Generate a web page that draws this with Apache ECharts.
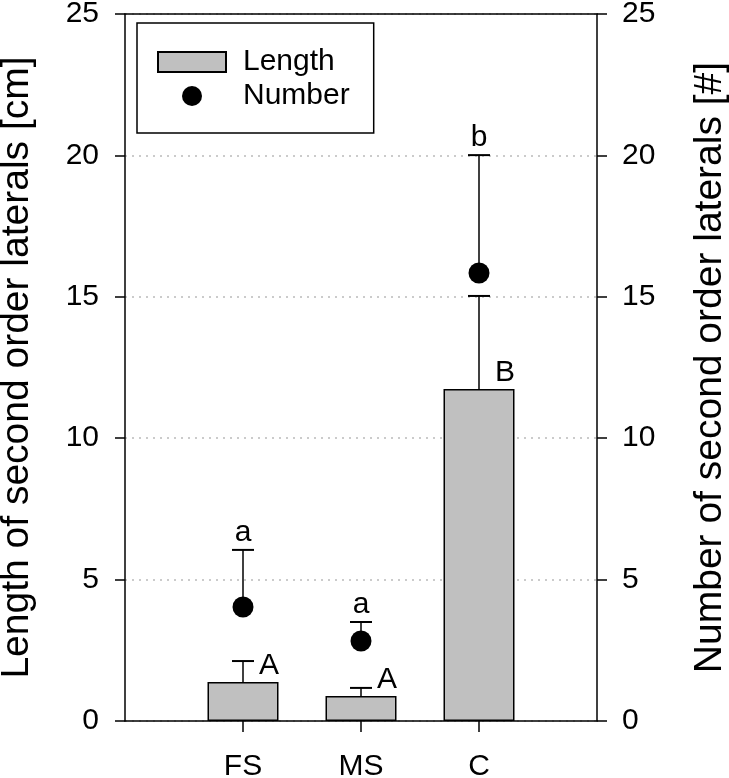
<!DOCTYPE html>
<html>
<head>
<meta charset="utf-8">
<script src="https://cdn.jsdelivr.net/npm/echarts@6/dist/echarts.min.js"></script>
<style>
html,body{margin:0;padding:0;background:#fff;}
#chart{width:729px;height:778px;}
</style>
</head>
<body>
<div id="chart"></div>
<script>
// ---- data ----
const categories = ['FS', 'MS', 'C'];
const lengthMean = [1.38, 0.88, 11.74];
const lengthErr = [0.74, 0.29, 3.29];
const numberMean = [4.03, 2.83, 15.84];
const numberErr = [2.02, 0.67, 4.17];
const lengthLetters = ['A', 'A', 'B'];
const numberLetters = ['a', 'a', 'b'];
const yTicks = [0, 5, 10, 15, 20, 25];

// ---- build ----
const FONT = '"Liberation Sans", Arial, sans-serif';
const axisCats = [''].concat(categories).concat(['']);
const lengthData = categories.map((c, i) => [i + 1, lengthMean[i]]);
const numberData = categories.map((c, i) => [i + 1, numberMean[i]]);
const lengthErrData = categories.map((c, i) => [i + 1, lengthMean[i], lengthMean[i] + lengthErr[i]]);
const numberErrData = categories.map((c, i) => [i + 1, numberMean[i], numberMean[i] + numberErr[i]]);

function makeErr(letters, kind) {
  return function (params, api) {
    const x = api.value(0), lo = api.value(1), hi = api.value(2);
    const p0 = api.coord([x, lo]);
    const p1 = api.coord([x, hi]);
    const half = 11;
    const txt = letters[params.dataIndex];
    let textEl;
    if (kind === 'number') {
      textEl = {type: 'text', x: p1[0], y: p1[1] - 17,
        style: {text: txt, fontSize: 30, fontFamily: FONT, fill: '#000', align: 'center', verticalAlign: 'middle'}};
    } else {
      textEl = {type: 'text', x: p0[0] + 16, y: p0[1] - 16,
        style: {text: txt, fontSize: 30, fontFamily: FONT, fill: '#000', align: 'left', verticalAlign: 'middle'}};
    }
    return {type: 'group', children: [
      {type: 'line', shape: {x1: p0[0], y1: p0[1], x2: p1[0], y2: p1[1]}, style: {stroke: '#000', lineWidth: 1.5}},
      {type: 'line', shape: {x1: p1[0] - half, y1: p1[1], x2: p1[0] + half, y2: p1[1]}, style: {stroke: '#000', lineWidth: 2}},
      textEl
    ]};
  };
}

const chart = echarts.init(document.getElementById('chart'), null, {renderer: 'canvas'});
const yAxisBase = {
  type: 'value', min: yTicks[0], max: yTicks[yTicks.length - 1], interval: 5,
  axisLine: {show: true, lineStyle: {color: '#000', width: 1.5}},
  axisTick: {show: true, inside: false, length: 10, lineStyle: {color: '#000', width: 1.5}},
  nameLocation: 'middle',
  nameTextStyle: {fontSize: 39, fontFamily: FONT, color: '#000'}
};
chart.setOption({
  animation: false,
  backgroundColor: '#fff',
  grid: {left: 125, right: 132, top: 14, bottom: 57, containLabel: false, outerBoundsMode: 'none'},
  legend: {
    orient: 'vertical', left: 137, top: 23,
    padding: [24, 24, 22, 20], itemGap: 4, itemWidth: 68, itemHeight: 20,
    borderColor: '#000', borderWidth: 1.5,
    textStyle: {fontSize: 30, fontFamily: FONT, color: '#000', padding: [0, 0, 0, 12]},
    data: [{name: 'Length', icon: 'rect'}, {name: 'Number', icon: 'circle'}]
  },
  xAxis: [{
    type: 'category', data: axisCats, boundaryGap: false, position: 'bottom',
    axisLine: {show: true, onZero: false, lineStyle: {color: '#000', width: 1.5}},
    axisTick: {show: true, inside: false, length: 11, lineStyle: {color: '#000', width: 1.5},
      interval: function (idx) { return idx >= 1 && idx <= categories.length; }},
    axisLabel: {fontSize: 30, fontFamily: FONT, color: '#000', margin: 31, interval: 0},
    splitLine: {show: false}
  }, {
    type: 'category', data: axisCats, boundaryGap: false, position: 'top',
    axisLine: {show: true, onZero: false, lineStyle: {color: '#000', width: 1.5}},
    axisTick: {show: false}, axisLabel: {show: false}, splitLine: {show: false}
  }],
  yAxis: [Object.assign({}, yAxisBase, {
    position: 'left', name: 'Length of second order laterals [cm]', nameGap: 88,
    axisLabel: {fontSize: 30, fontFamily: FONT, color: '#000', margin: 26},
    splitLine: {show: true, lineStyle: {color: '#bbbbbb', width: 1.5, type: [2, 5]}}
  }), Object.assign({}, yAxisBase, {
    position: 'right', name: 'Number of second order laterals [#]', nameGap: 94,
    axisLabel: {fontSize: 30, fontFamily: FONT, color: '#000', margin: 25},
    splitLine: {show: false}
  })],
  series: [{
    name: 'Length', type: 'bar', xAxisIndex: 0, yAxisIndex: 0, data: lengthData,
    barWidth: 71,
    itemStyle: {color: '#c0c0c0', borderColor: '#000', borderWidth: 1.5},
    z: 2
  }, {
    name: 'LengthErr', type: 'custom', xAxisIndex: 0, yAxisIndex: 0, data: lengthErrData,
    renderItem: makeErr(lengthLetters, 'length'), z: 3
  }, {
    name: 'NumberErr', type: 'custom', xAxisIndex: 0, yAxisIndex: 1, data: numberErrData,
    renderItem: makeErr(numberLetters, 'number'), z: 3
  }, {
    name: 'Number', type: 'scatter', xAxisIndex: 0, yAxisIndex: 1, data: numberData,
    symbol: 'circle', symbolSize: 21,
    itemStyle: {color: '#000', opacity: 1}, z: 4
  }]
});
</script>
</body>
</html>
